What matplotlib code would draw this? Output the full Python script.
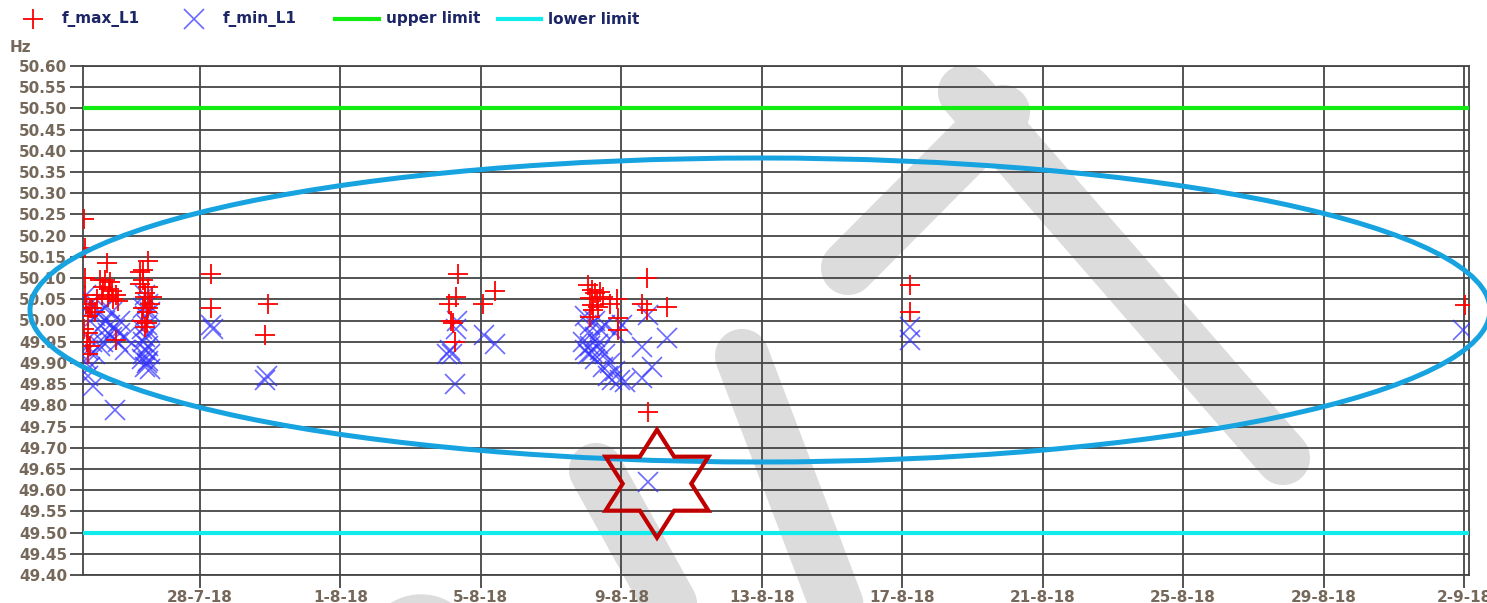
import matplotlib
matplotlib.use("Agg")
import matplotlib.pyplot as plt
import matplotlib.dates as mdates
import matplotlib.ticker as mticker
from matplotlib.lines import Line2D
from matplotlib.patches import Ellipse, Polygon
from matplotlib.transforms import ScaledTranslation
import numpy as np
import pandas as pd

# ---------------------------------------------------------------- data
# 10-minute frequency extremes on phase L1 (month-day hour:minute, 2018)
fmax_time = [
    "07-24 16:42", "07-24 17:24", "07-24 17:24", "07-24 17:24", "07-24 19:26",
    "07-24 19:26", "07-24 19:26", "07-24 20:48", "07-24 20:48", "07-24 22:10",
    "07-24 18:04", "07-24 18:46", "07-24 16:42", "07-25 01:35", "07-25 03:39",
    "07-25 05:41", "07-25 07:03", "07-25 08:25", "07-25 09:07", "07-25 10:29",
    "07-25 11:51", "07-25 14:35", "07-25 15:58", "07-25 14:35", "07-25 05:01",
    "07-25 09:48", "07-25 12:32", "07-25 00:13",
    "07-26 12:27", "07-26 09:03", "07-26 06:59", "07-26 09:03", "07-26 06:59",
    "07-26 12:27", "07-26 10:25", "07-26 15:11", "07-26 09:03", "07-26 12:27",
    "07-26 11:46", "07-26 08:21", "07-26 11:46", "07-26 10:25", "07-26 13:49",
    "07-26 10:25",
    "07-28 07:31", "07-28 07:31", "07-29 22:29", "07-29 20:26",
    "08-04 08:21", "08-05 09:39", "08-04 06:59", "08-04 02:12", "08-05 01:26",
    "08-04 03:35", "08-04 04:57", "08-04 06:19",
    "08-08 03:58", "08-08 06:00", "08-08 09:26", "08-08 02:36", "08-08 07:22",
    "08-08 11:28", "08-08 03:58", "08-08 08:04", "08-08 04:38", "08-08 02:36",
    "08-08 21:03", "08-08 21:43", "08-08 21:43", "08-08 16:16", "08-08 01:13",
    "08-09 17:33", "08-09 14:08", "08-09 17:33", "08-10 07:13", "08-09 18:14",
    "08-17 05:20", "08-17 05:20",
    "09-02 00:42",
]
fmax_hz = [
    50.24, 50.17, 50.10, 50.06, 50.01,
    49.97, 49.92, 50.03, 49.94, 50.03,
    50.04, 49.95, 49.98, 50.05, 50.095,
    50.08, 50.095, 50.135, 50.055, 50.09,
    50.07, 50.06, 50.045, 49.955, 50.06,
    50.075, 50.05, 50.02,
    50.14, 50.12, 50.115, 50.095, 50.085,
    50.08, 50.055, 50.055, 50.03, 50.03,
    50.02, 50.00, 49.995, 49.985, 50.04,
    50.065,
    50.11, 50.03, 50.04, 49.965,
    50.11, 50.07, 50.055, 50.04, 50.04,
    50.00, 49.995, 49.95,
    50.072, 50.064, 50.067, 50.053, 50.05,
    50.055, 50.036, 50.032, 50.025, 50.009,
    50.05, 50.006, 49.977, 50.04, 50.083,
    50.10, 50.04, 50.025, 50.032, 49.784,
    50.083, 50.02,
    50.036,
]

fmin_time = [
    "07-24 18:04", "07-24 20:48", "07-24 19:26", "07-25 00:13", "07-25 03:39",
    "07-25 07:03", "07-25 10:29", "07-25 13:54", "07-25 17:18", "07-25 09:07",
    "07-25 02:17", "07-25 11:51", "07-25 15:58", "07-25 05:41", "07-24 22:10",
    "07-24 19:26", "07-25 00:13", "07-24 18:04", "07-25 03:39", "07-25 20:44",
    "07-24 20:48", "07-24 19:26", "07-24 22:51", "07-25 13:54", "07-25 07:03",
    "07-25 11:51", "07-25 17:18", "07-25 20:44",
    "07-26 10:25", "07-26 12:27", "07-26 09:03", "07-26 13:49", "07-26 10:25",
    "07-26 11:46", "07-26 08:21", "07-26 13:49", "07-26 10:25", "07-26 09:03",
    "07-26 12:27", "07-26 10:25", "07-26 13:49", "07-26 08:21", "07-26 11:46",
    "07-26 10:25", "07-26 13:49", "07-26 09:03", "07-26 12:27",
    "07-28 07:31", "07-28 08:53", "07-29 21:48", "07-29 20:26",
    "08-04 07:41", "08-04 06:59", "08-05 02:08", "08-05 09:39", "08-04 02:54",
    "08-04 04:15", "08-04 00:50", "08-04 06:19",
    "08-07 23:10", "08-08 02:36", "08-08 06:00", "08-08 09:26", "08-08 12:50",
    "08-08 01:13", "08-08 06:00", "08-07 21:48", "08-08 02:36", "08-08 08:04",
    "08-07 23:10", "08-08 03:58", "08-08 09:26", "08-08 12:50", "08-08 06:00",
    "08-08 16:16", "08-08 11:28", "08-08 19:41", "08-08 14:54", "08-08 23:05",
    "08-09 02:31", "08-08 17:38", "08-08 01:13", "08-08 19:41", "08-09 00:27",
    "08-09 18:14", "08-09 14:08", "08-10 07:13", "08-09 20:59", "08-09 14:08",
    "08-09 18:14",
    "08-17 05:20", "08-17 05:20",
    "09-01 23:20",
]
fmin_hz = [
    50.06, 50.04, 50.02, 50.01, 50.02,
    50.00, 49.99, 49.98, 49.97, 49.97,
    49.98, 49.96, 49.95, 49.95, 49.95,
    49.93, 49.92, 49.91, 49.94, 49.93,
    49.89, 49.87, 49.845, 49.79, 50.03,
    50.02, 50.00, 49.96,
    50.06, 50.04, 50.03, 50.02, 50.01,
    49.99, 49.98, 49.97, 49.96, 49.95,
    49.94, 49.93, 49.92, 49.91, 49.90,
    49.89, 49.885, 49.92, 49.905,
    49.99, 49.98, 49.87, 49.86,
    50.00, 49.98, 49.965, 49.945, 49.93,
    49.92, 49.92, 49.85,
    50.01, 49.99, 50.00, 49.98, 49.99,
    49.97, 49.96, 49.95, 49.94, 49.945,
    49.93, 49.925, 49.93, 49.92, 49.91,
    49.90, 49.89, 49.88, 49.87, 49.86,
    49.855, 49.86, 49.92, 49.97, 49.99,
    50.013, 49.937, 49.958, 49.89, 49.864,
    49.62,
    49.985, 49.954,
    49.977,
]

upper_limit = 50.50
lower_limit = 49.50

x_start = "2018-07-24 16:02"
x_end = "2018-09-02 03:26"
date_ticks = ["2018-07-28", "2018-08-01", "2018-08-05", "2018-08-09",
              "2018-08-13", "2018-08-17", "2018-08-21", "2018-08-25",
              "2018-08-29", "2018-09-02"]
y_ticks = [49.40, 49.45, 49.50, 49.55, 49.60, 49.65, 49.70, 49.75, 49.80,
           49.85, 49.90, 49.95, 50.00, 50.05, 50.10, 50.15, 50.20, 50.25,
           50.30, 50.35, 50.40, 50.45, 50.50, 50.55, 50.60]

# ---------------------------------------------------------------- style
W, H = 1487, 603
FONT = "DejaVu Sans"
FS = 11
LABEL_COLOR = "#75685a"
TEXT_COLOR = "#1c2566"
GRID_COLOR = "#454545"
MAX_COLOR = "#ff0000"
MIN_COLOR = "#3030ff"
UPPER_COLOR = "#12ec12"
LOWER_COLOR = "#10ecec"
MARK_COLOR = "#dcdcdc"

plt.rcParams["font.family"] = [FONT]

fig = plt.figure(figsize=(W / 100, H / 100), dpi=100)
fig.patch.set_facecolor("white")


def px(x, y):
    """Figure-pixel position (from top-left) to figure fraction."""
    return x / W, 1 - y / H


# light watermark strokes behind the chart
for (x0, y0), (x1, y1) in [((965, 92), (1283, 458)),
                           ((848, 268), (1003, 112)),
                           ((742, 356), (850, 640)),
                           ((596, 470), (690, 640))]:
    (fx0, fy0), (fx1, fy1) = px(x0, y0), px(x1, y1)
    fig.add_artist(Line2D([fx0, fx1], [fy0, fy1], lw=39, color=MARK_COLOR,
                          solid_capstyle="round", zorder=0))
fig.add_artist(Ellipse(px(421, 652), 114 / W, 114 / H, color=MARK_COLOR, zorder=0))

ax = fig.add_axes([83 / W, 28 / H, (1469 - 83) / W, (575 - 66) / H])
ax.set_facecolor("none")
ax.set_zorder(1)

to_dt = lambda s: pd.to_datetime(["2018-" + v for v in s])
t_max = to_dt(fmax_time)
t_min = to_dt(fmin_time)

ax.axhline(upper_limit, color=UPPER_COLOR, lw=3.0, zorder=3)
ax.axhline(lower_limit, color=LOWER_COLOR, lw=3.0, zorder=3)

ax.plot(t_min, fmin_hz, ls="none", marker="x", ms=15, mew=1.2,
        color=MIN_COLOR, alpha=0.72, zorder=4)
ax.plot(t_max, fmax_hz, ls="none", marker="+", ms=15, mew=1.3,
        color=MAX_COLOR, zorder=5)

ax.set_xlim(pd.Timestamp(x_start), pd.Timestamp(x_end))
ax.set_ylim(y_ticks[0], y_ticks[-1])

ax.xaxis.set_major_locator(mticker.FixedLocator(mdates.date2num(pd.to_datetime(date_ticks))))
ax.xaxis.set_major_formatter(mdates.DateFormatter("%-d-%-m-%y"))
ax.set_yticks(y_ticks)
ax.yaxis.set_major_formatter(mticker.FormatStrFormatter("%.2f"))

ax.grid(True, color=GRID_COLOR, lw=1.3, zorder=2)
ax.set_axisbelow(True)
for side in ["left", "bottom", "top", "right"]:
    ax.spines[side].set_color(GRID_COLOR)
    ax.spines[side].set_linewidth(1.3)

ax.tick_params(axis="both", direction="out", length=9.5, width=1.3,
               color=GRID_COLOR, labelcolor=LABEL_COLOR, labelsize=FS)
ax.tick_params(axis="y", pad=2)
ax.tick_params(axis="x", pad=1.5)
for lab in ax.get_xticklabels() + ax.get_yticklabels():
    lab.set_fontweight("bold")

fig.text(*px(10, 48), "Hz", color=LABEL_COLOR, fontsize=FS,
         fontweight="bold", ha="left", va="center")

# legend row along the top
ly = 19
fig.add_artist(Line2D(*zip(px(33, ly)), marker="+", ms=15, mew=1.3, color=MAX_COLOR))
fig.text(*px(62, ly), "f_max_L1", color=TEXT_COLOR, fontsize=FS, fontweight="bold", va="center")
fig.add_artist(Line2D(*zip(px(194, ly)), marker="x", ms=15, mew=1.2, color=MIN_COLOR, alpha=0.72))
fig.text(*px(223, ly), "f_min_L1", color=TEXT_COLOR, fontsize=FS, fontweight="bold", va="center")
fig.add_artist(Line2D(*zip(px(335, ly), px(379, ly)), lw=3.0, color=UPPER_COLOR))
fig.text(*px(386, ly), "upper limit", color=TEXT_COLOR, fontsize=FS, fontweight="bold", va="center")
fig.add_artist(Line2D(*zip(px(498, ly), px(541, ly)), lw=3.0, color=LOWER_COLOR))
fig.text(*px(548, ly), "lower limit", color=TEXT_COLOR, fontsize=FS, fontweight="bold", va="center")

# highlight ring around the bulk of the measurements
fig.add_artist(Ellipse(px(760, 310), 1460 / W, 304 / H, fill=False,
                       ec="#16a3e0", lw=3.6, zorder=10))

# six-pointed star on the lowest f_min reading
i_low = int(np.argmin(fmin_hz))
anchor = ScaledTranslation(mdates.date2num(t_min[i_low]), fmin_hz[i_low], ax.transData)
ang = np.deg2rad(np.arange(90, 450, 30))
rad = np.where(np.arange(12) % 2 == 0, 0.54, 0.54 / np.sqrt(3))
star_xy = np.column_stack([1.1 * rad * np.cos(ang) + 0.09, rad * np.sin(ang) - 0.02])
fig.add_artist(Polygon(star_xy, closed=True, fill=False, ec="#c00000", lw=3.0,
                       joinstyle="miter", transform=fig.dpi_scale_trans + anchor,
                       zorder=11))

fig.savefig("out.png", dpi=100)
